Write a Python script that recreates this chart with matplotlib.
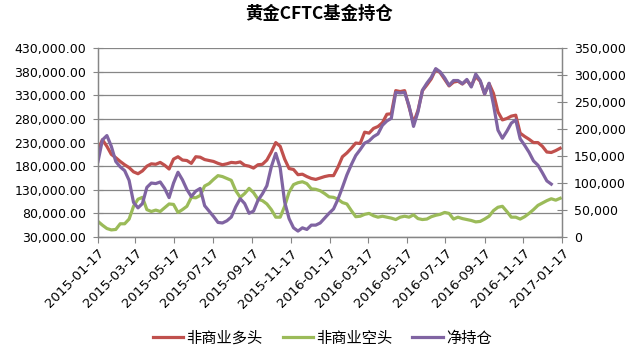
import matplotlib
matplotlib.use('Agg')
import matplotlib.pyplot as plt
import matplotlib.dates as mdates
import matplotlib.ticker as mticker
import pandas as pd

plt.rcParams['font.family'] = ['DejaVu Sans', 'Noto Sans CJK SC']

# 周度数据（从2015-01-17开始）
weeks = pd.date_range('2015-01-17', periods=105, freq='7D')

long_pos = [215, 236, 222, 205, 198, 190, 183, 177, 168, 164,
            170, 180, 185, 184, 188, 182, 174, 195, 200, 193,
            192, 186, 200, 199, 194, 192, 190, 186, 183, 185,
            188, 187, 189, 182, 180, 176, 183, 184, 193, 210,
            230, 222, 195, 175, 173, 162, 163, 158, 154, 152,
            155, 158, 160, 160, 178, 200, 208, 218, 229, 228,
            252, 250, 260, 264, 272, 290, 291, 340, 338, 340,
            305, 272, 298, 340, 352, 365, 385, 378, 364, 350,
            358, 360, 354, 362, 350, 370, 360, 333, 355, 334,
            295, 278, 281, 286, 288, 250, 243, 237, 230, 230,
            222, 210, 209, 213, 218]

short_pos = [63, 55, 48, 45, 46, 58, 58, 68, 95, 110,
             114, 88, 84, 87, 84, 92, 100, 99, 82, 88,
             95, 114, 113, 118, 138, 143, 152, 160, 158, 154,
             150, 128, 114, 122, 133, 124, 110, 107, 100, 88,
             72, 72, 95, 125, 141, 145, 147, 143, 132, 131,
             128, 122, 115, 114, 110, 103, 100, 86, 73, 74,
             78, 80, 75, 72, 74, 72, 70, 67, 72, 74,
             72, 77, 69, 67, 68, 73, 76, 78, 82, 80,
             68, 72, 69, 67, 65, 62, 63, 68, 74, 86,
             93, 95, 84, 72, 72, 68, 73, 80, 88, 97,
             102, 107, 111, 108, 112]

net_pos = [140, 180, 188, 168, 140, 130, 123, 105, 64, 54,
           62, 92, 100, 99, 102, 90, 73, 100, 120, 106,
           88, 75, 85, 90, 58, 48, 38, 27, 26, 30,
           37, 56, 71, 62, 44, 48, 68, 80, 95, 130,
           155, 128, 65, 34, 17, 11, 17, 14, 22, 22,
           26, 35, 44, 52, 70, 92, 115, 134, 151, 162,
           174, 178, 186, 191, 207, 215, 220, 268, 267, 268,
           243, 205, 232, 272, 285, 296, 312, 306, 295, 281,
           290, 290, 284, 292, 278, 302, 290, 265, 285, 245,
           198, 183, 196, 211, 217, 182, 170, 157, 141, 133,
           119, 104, 98]

tick_labels = ['2015-01-17', '2015-03-17', '2015-05-17', '2015-07-17',
               '2015-09-17', '2015-11-17', '2016-01-17', '2016-03-17',
               '2016-05-17', '2016-07-17', '2016-09-17', '2016-11-17',
               '2017-01-17']

long_vals = [v * 1000 for v in long_pos]
short_vals = [v * 1000 for v in short_pos]
net_vals = [v * 1000 for v in net_pos]
tick_dates = pd.to_datetime(tick_labels)

fig = plt.figure(figsize=(6.38, 3.54), dpi=100)
ax = fig.add_axes([0.1536, 0.3305, 0.7274, 0.5335])
ax2 = ax.twinx()

grey = '#868686'
l1, = ax.plot(weeks, long_vals, color='#C0504D', lw=2.3, label='非商业多头')
l2, = ax.plot(weeks, short_vals, color='#9BBB59', lw=2.3, label='非商业空头')
l3, = ax2.plot(weeks[:len(net_vals)], net_vals, color='#8064A2', lw=2.3, label='净持仓')

ax.set_ylim(30000, 430000)
ax.set_yticks(range(30000, 430001, 50000))
ax.yaxis.set_major_formatter(mticker.FuncFormatter(lambda v, p: '{:,.2f}'.format(v)))
ax2.set_ylim(0, 350000)
ax2.set_yticks(range(0, 350001, 50000))
ax2.yaxis.set_major_formatter(mticker.FuncFormatter(lambda v, p: '{:,.0f}'.format(v)))

ax.set_xlim(tick_dates[0], tick_dates[-1])
ax.set_xticks(tick_dates)
ax.set_xticklabels(tick_labels, rotation=45, ha='right', rotation_mode='anchor', fontsize=9.5)

ax.grid(axis='y', color=grey, lw=0.9)
ax.set_axisbelow(True)

for a in (ax, ax2):
    for s in a.spines.values():
        s.set_color(grey)
        s.set_linewidth(0.9)
    a.spines['top'].set_visible(False)
ax.tick_params(axis='y', direction='inout', length=7, color=grey, labelsize=9, pad=5)
ax2.tick_params(axis='y', direction='inout', length=7, color=grey, labelsize=9, pad=5)
ax.tick_params(axis='x', direction='out', length=4, color=grey, pad=3)

fig.suptitle('黄金CFTC基金持仓', x=0.5, y=0.985, fontsize=12.5, fontweight='bold',
             family=['Noto Sans CJK SC', 'DejaVu Sans'])

fig.legend([l1, l2, l3], ['非商业多头', '非商业空头', '净持仓'], loc='center',
           bbox_to_anchor=(0.505, 0.045), ncol=3, frameon=False, fontsize=11,
           handlelength=2.0, columnspacing=1.3, handletextpad=0.2,
           prop={'family': ['Noto Sans CJK SC', 'DejaVu Sans'], 'size': 11})

fig.savefig('out.png', dpi=100)
